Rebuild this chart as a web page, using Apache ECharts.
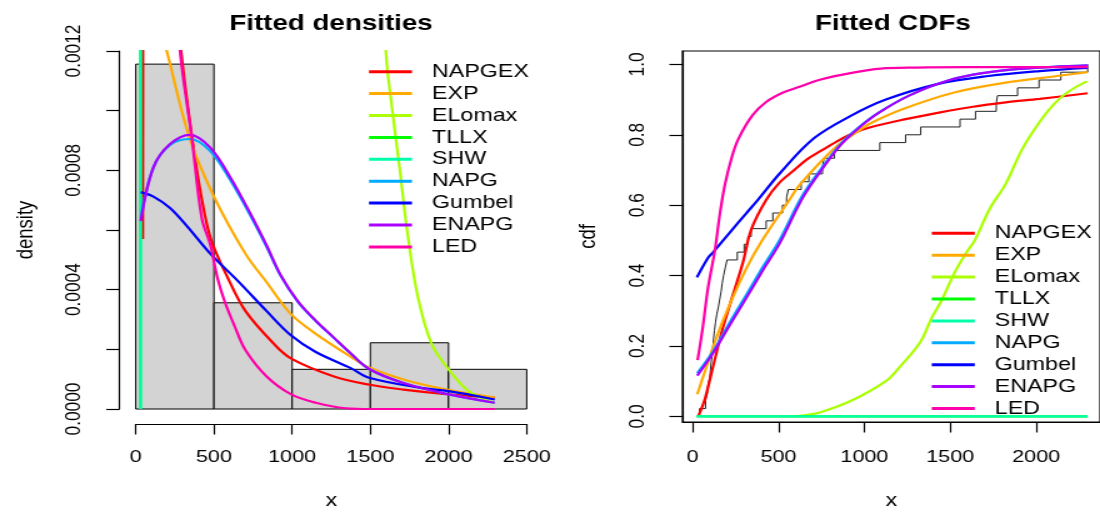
<!DOCTYPE html>
<html>
<head>
<meta charset="utf-8">
<script src="https://cdn.jsdelivr.net/npm/echarts/dist/echarts.min.js"></script>
<style>
html,body{margin:0;padding:0;width:1100px;height:515px;overflow:hidden;background:#fff;}
#chart{width:880px;height:515px;transform:scaleX(1.25);transform-origin:0 0;}
</style>
</head>
<body>
<div id="chart"></div>
<script>
// ---------------- DATA ----------------
const seriesNames = ['NAPGEX','EXP','ELomax','TLLX','SHW','NAPG','Gumbel','ENAPG','LED'];

// Left panel: histogram (density scale)
const histBinStart = [0, 500, 1000, 1500, 2000];
const histBinEnd   = [500, 1000, 1500, 2000, 2500];
const histDensity  = [0.001156, 0.000356, 0.000133, 0.000222, 0.000133];
const densityXTicks = [0, 500, 1000, 1500, 2000, 2500];

// Left panel: fitted densities
const napgexDensX = [45, 48, 70, 120, 180, 240, 290, 360, 420, 480, 590, 702, 882, 994, 1263, 1487, 1712, 2000, 2295];
const napgexDensY = [0.00057, 0.0016, 0.0024, 0.0023, 0.0019, 0.0015, 0.0012, 0.00091, 0.00071, 0.00057, 0.000438, 0.000328, 0.000219, 0.000169, 0.00011, 0.000082, 0.000065, 0.000049, 0.000038];
const expDensX = [24, 100, 198, 343, 500, 702, 837, 994, 1151, 1375, 1492, 1750, 2000, 2295];
const expDensY = [0.00155, 0.00138, 0.0012, 0.00091, 0.000712, 0.00052, 0.000425, 0.000317, 0.000252, 0.000175, 0.000139, 0.000093, 0.000064, 0.000038];
const elomaxDensX = [1500, 1560, 1599, 1644, 1689, 1734, 1801, 1891, 2003, 2115, 2205, 2295];
const elomaxDensY = [0.003, 0.0018, 0.0012, 0.000986, 0.0008, 0.000603, 0.000383, 0.000219, 0.000131, 0.000065, 0.000038, 0.00002];
const tllxDensX = [30, 31];
const tllxDensY = [0, 0.05];
const shwDensX = [31, 32];
const shwDensY = [0, 0.05];
const napgDensX = [32, 113, 219, 347, 475, 603, 731, 837, 926, 1038, 1151, 1263, 1375, 1492, 1712, 2000, 2295];
const napgDensY = [0.00064, 0.00081, 0.000885, 0.000905, 0.000865, 0.000768, 0.00065, 0.000543, 0.000447, 0.000358, 0.000295, 0.00024, 0.000186, 0.000134, 0.000087, 0.000049, 0.000021];
const gumbelDensX = [32, 113, 219, 326, 478, 657, 837, 994, 1151, 1375, 1492, 1823, 2000, 2295];
const gumbelDensY = [0.000727, 0.000712, 0.000674, 0.000614, 0.00052, 0.000427, 0.000328, 0.000246, 0.000191, 0.000137, 0.000105, 0.000071, 0.00006, 0.000032];
const enapgDensX = [32, 113, 219, 347, 475, 603, 731, 837, 926, 1038, 1151, 1263, 1375, 1492, 1712, 2000, 2295];
const enapgDensY = [0.00063, 0.00081, 0.000888, 0.000919, 0.000877, 0.000778, 0.000657, 0.000548, 0.000449, 0.00036, 0.000296, 0.000241, 0.000186, 0.000134, 0.000087, 0.000049, 0.000021];
const ledDensX = [24, 100, 150, 200, 250, 283, 358, 422, 478, 523, 568, 635, 702, 837, 994, 1151, 1341, 1500, 2295];
const ledDensY = [0.0036, 0.0032, 0.0028, 0.0021, 0.0015, 0.0012, 0.00091, 0.00064, 0.000548, 0.000438, 0.000361, 0.000274, 0.000197, 0.000109, 0.000049, 0.000021, 0.0000026, 0, 0];

// Right panel: sample (empirical CDF)
const sampleX = [40, 75, 86, 89, 100, 104, 108, 114, 118, 122, 127, 133, 140, 150, 158, 166, 172, 180, 190, 200, 260, 300, 322, 341, 428, 467, 523, 547, 557, 632, 677, 756, 766, 826, 1090, 1240, 1328, 1557, 1647, 1768, 1775, 1892, 2017, 2144, 2300];
const cdfXTicks = [0, 500, 1000, 1500, 2000];
const cdfYTicks = [0, 0.2, 0.4, 0.6, 0.8, 1.0];

// Right panel: fitted CDFs
const napgexCdfX = [32, 71, 119, 177, 235, 293, 341, 428, 507, 587, 666, 746, 836, 926, 1025, 1225, 1424, 1623, 1822, 2021, 2300];
const napgexCdfY = [0, 0.049, 0.142, 0.253, 0.346, 0.438, 0.531, 0.615, 0.665, 0.698, 0.73, 0.754, 0.78, 0.803, 0.82, 0.843, 0.862, 0.879, 0.892, 0.902, 0.918];
const expCdfX = [27, 81, 139, 216, 312, 409, 563, 627, 826, 964, 1025, 1225, 1523, 1822, 2121, 2300];
const expCdfY = [0.063, 0.142, 0.225, 0.318, 0.42, 0.503, 0.615, 0.66, 0.762, 0.81, 0.83, 0.873, 0.92, 0.948, 0.967, 0.978];
const elomaxCdfX = [587, 650, 746, 926, 1125, 1200, 1324, 1392, 1450, 1527, 1600, 1643, 1730, 1822, 1920, 2021, 2100, 2181, 2300];
const elomaxCdfY = [0, 0.003, 0.012, 0.045, 0.1, 0.137, 0.21, 0.28, 0.33, 0.41, 0.47, 0.5, 0.59, 0.66, 0.76, 0.837, 0.885, 0.92, 0.953];
const tllxCdfX = [23, 2300];
const tllxCdfY = [0, 0];
const shwCdfX = [23, 2300];
const shwCdfY = [0, 0];
const napgCdfX = [27, 119, 219, 312, 409, 505, 640, 750, 860, 964, 1083, 1263, 1492, 1700, 1900, 2100, 2300];
const napgCdfY = [0.123, 0.185, 0.27, 0.345, 0.425, 0.5, 0.628, 0.705, 0.773, 0.82, 0.863, 0.912, 0.955, 0.976, 0.987, 0.993, 0.997];
const gumbelCdfX = [25, 89, 119, 216, 312, 380, 507, 706, 926, 1125, 1424, 1722, 2021, 2300];
const gumbelCdfY = [0.395, 0.45, 0.466, 0.522, 0.577, 0.615, 0.69, 0.79, 0.855, 0.9, 0.944, 0.967, 0.981, 0.99];
const enapgCdfX = [27, 119, 219, 312, 409, 505, 640, 750, 860, 964, 1083, 1263, 1492, 1700, 1900, 2100, 2300];
const enapgCdfY = [0.116, 0.18, 0.262, 0.336, 0.415, 0.49, 0.62, 0.7, 0.77, 0.818, 0.862, 0.912, 0.955, 0.976, 0.987, 0.993, 0.997];
const ledCdfX = [29, 59, 89, 129, 160, 189, 230, 268, 348, 428, 527, 627, 746, 926, 1095, 1300, 1600, 2300];
const ledCdfY = [0.16, 0.253, 0.364, 0.47, 0.58, 0.661, 0.74, 0.79, 0.855, 0.893, 0.92, 0.937, 0.957, 0.976, 0.988, 0.991, 0.992, 0.992];

// ---------------- STYLE ----------------
const colors = ['#FF0000','#FFAA00','#AAFF00','#00FF00','#00FFAA','#00AAFF','#0000FF','#AA00FF','#FF00AA'];
const fontFamily = "'Liberation Sans', Arial, Helvetica, sans-serif";
const ink = '#000';

const densX = [napgexDensX, expDensX, elomaxDensX, tllxDensX, shwDensX, napgDensX, gumbelDensX, enapgDensX, ledDensX];
const densY = [napgexDensY, expDensY, elomaxDensY, tllxDensY, shwDensY, napgDensY, gumbelDensY, enapgDensY, ledDensY];
const cdfX = [napgexCdfX, expCdfX, elomaxCdfX, tllxCdfX, shwCdfX, napgCdfX, gumbelCdfX, enapgCdfX, ledCdfX];
const cdfY = [napgexCdfY, expCdfY, elomaxCdfY, tllxCdfY, shwCdfY, napgCdfY, gumbelCdfY, enapgCdfY, ledCdfY];

function pairs(xs, ys) { return xs.map((x, k) => [x, ys[k]]); }

function curve(name, idx, xs, ys, axisIdx) {
  const spike = (name === 'TLLX' || name === 'SHW');
  return {
    type: 'line', name: name, xAxisIndex: axisIdx, yAxisIndex: axisIdx,
    data: pairs(xs, ys), showSymbol: false, symbol: 'none',
    smooth: spike ? false : 0.35, clip: true,
    lineStyle: { color: colors[idx], width: 2.2 }, itemStyle: { color: colors[idx] },
    z: 3, silent: true
  };
}

const series = [];
series.push({
  type: 'custom', xAxisIndex: 0, yAxisIndex: 0, silent: true, z: 1,
  data: histBinStart.map((s, i) => [s, histBinEnd[i], histDensity[i]]),
  encode: { x: [0, 1], y: 2 },
  renderItem: function (params, api) {
    const p0 = api.coord([api.value(0), api.value(2)]);
    const p1 = api.coord([api.value(1), 0]);
    return { type: 'rect', shape: { x: p0[0], y: p0[1], width: p1[0] - p0[0], height: p1[1] - p0[1] },
             style: { fill: '#D3D3D3', stroke: '#000', lineWidth: 1 } };
  }
});
seriesNames.forEach((n, i) => series.push(curve(n, i, densX[i], densY[i], 0)));

const ecdfData = [[sampleX[0], 0]].concat(sampleX.map((x, i) => [x, (i + 1) / sampleX.length]));
series.push({
  type: 'line', name: 'ECDF', xAxisIndex: 1, yAxisIndex: 1, data: ecdfData, step: 'end',
  showSymbol: false, symbol: 'none', lineStyle: { color: '#222', width: 1 }, z: 2, silent: true
});
seriesNames.forEach((n, i) => series.push(curve(n, i, cdfX[i], cdfY[i], 1)));

function legendAt(left, top) {
  return {
    orient: 'vertical', left: left, top: top, padding: 0, icon: 'rect',
    itemWidth: 34.4, itemHeight: 3, itemGap: 1.9, selectedMode: false,
    data: seriesNames,
    textStyle: { fontSize: 18.6, lineHeight: 20, color: ink, fontFamily: fontFamily, padding: [0, 0, 0, 11] }
  };
}

const axisCommon = {
  type: 'value', splitLine: { show: false },
  axisLine: { show: true, onZero: false, lineStyle: { color: '#000', width: 1.2 } },
  axisTick: { show: true, length: 10.5, lineStyle: { color: '#000', width: 1.2 } },
  nameTextStyle: { fontSize: 18.5, color: ink, fontFamily: fontFamily },
  nameLocation: 'middle'
};

const option = {
  animation: false,
  backgroundColor: '#fff',
  textStyle: { fontFamily: fontFamily },
  title: [
    { text: 'Fitted densities', left: 264.8, top: 13, textAlign: 'center', padding: 0,
      textStyle: { fontSize: 22.2, fontWeight: 'bold', color: ink, fontFamily: fontFamily } },
    { text: 'Fitted CDFs', left: 714.3, top: 13, textAlign: 'center', padding: 0,
      textStyle: { fontSize: 22.2, fontWeight: 'bold', color: ink, fontFamily: fontFamily } }
  ],
  legend: [legendAt(295.2, 61.7), legendAt(745.4, 223.3)],
  grid: [
    { left: 108.6, top: 51, width: 312.8, height: 365.5, containLabel: false },
    { left: 546, top: 51, width: 336.2, height: 379, show: true, borderColor: '#000', borderWidth: 1.2, containLabel: false }
  ],
  xAxis: [
    Object.assign({}, axisCommon, {
      gridIndex: 0, min: densityXTicks[0], max: densityXTicks[densityXTicks.length - 1], interval: 500, offset: 15,
      name: 'x', nameGap: 67,
      axisLabel: { fontSize: 17.3, color: ink, margin: 25, fontFamily: fontFamily, showMinLabel: true, showMaxLabel: true,
                   formatter: v => String(Math.round(v)) }
    }),
    Object.assign({}, axisCommon, {
      gridIndex: 1, min: -59, max: 2372,
      name: 'x', nameGap: 69,
      axisTick: { show: true, length: 10.5, lineStyle: { color: '#000', width: 1.2 }, customValues: cdfXTicks },
      axisLabel: { fontSize: 17.3, color: ink, margin: 26.5, fontFamily: fontFamily, customValues: cdfXTicks,
                   formatter: v => String(Math.round(v)) }
    })
  ],
  yAxis: [
    Object.assign({}, axisCommon, {
      gridIndex: 0, min: 0, max: 0.0012, interval: 0.0002, offset: 13,
      name: 'density', nameRotate: 90, nameGap: 65,
      axisLabel: { fontSize: 17.3, color: ink, margin: 27.5, rotate: 90, fontFamily: fontFamily,
                   formatter: v => (Math.round(v / 0.0002) % 2 === 0 ? v.toFixed(4) : '') }
    }),
    Object.assign({}, axisCommon, {
      gridIndex: 1, min: -0.0159, max: 1.038,
      name: 'cdf', nameRotate: 90, nameGap: 66,
      axisTick: { show: true, length: 10.5, lineStyle: { color: '#000', width: 1.2 }, customValues: cdfYTicks },
      axisLabel: { fontSize: 17.3, color: ink, margin: 27.5, rotate: 90, fontFamily: fontFamily, customValues: cdfYTicks,
                   formatter: v => v.toFixed(1) }
    })
  ],
  series: series
};

const chart = echarts.init(document.getElementById('chart'), null, { renderer: 'canvas' });
chart.setOption(option);
</script>
</body>
</html>
